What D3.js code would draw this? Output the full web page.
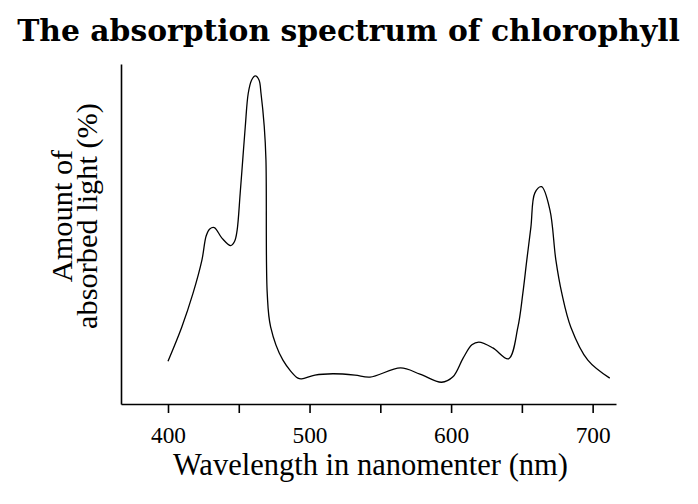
<!DOCTYPE html>
<html>
<head>
<meta charset="utf-8">
<script src="https://cdn.jsdelivr.net/npm/d3@7"></script>
<style>
  html, body { margin: 0; padding: 0; background: #fff; }
  svg { display: block; }
</style>
</head>
<body>
<svg id="chart" width="698" height="504"></svg>
<script>
// ---- data ----
const titleText = "The absorption spectrum of chlorophyll";
const xAxisTitle = "Wavelength in nanomenter (nm)";
const yAxisTitleLines = ["Amount of", "absorbed light (%)"];
const xTicks = [400, 450, 500, 550, 600, 650, 700];
const xTickLabels = [400, 500, 600, 700];
const wavelength = [400, 409.7, 417.7, 424.0, 427.0, 429.5, 432.7, 438.1, 444.3, 447.0, 448.8, 451.0, 452.8, 454.6, 456.7, 459.1, 461.7, 464.3, 465.7, 468.0, 469.2, 470.1, 472.5, 481.2, 491.8, 494.5, 503.8, 516.5, 532.1, 542.7, 564.3, 578.0, 593.3, 601.3, 608.5, 614.7, 619.6, 629.5, 640.6, 647.2, 650.7, 653.5, 656.4, 659.2, 663.9, 669.8, 674.0, 678.2, 684.6, 696.6, 712.1];
const absorbed = [12.6, 22.6, 32.6, 42.4, 49.5, 51.5, 51.9, 48.8, 46.6, 47.8, 51.0, 62.0, 71.8, 81.6, 91.4, 95.3, 96.5, 95.3, 91.4, 81.6, 71.8, 32.6, 22.7, 12.9, 7.6, 7.4, 8.5, 8.9, 8.5, 7.9, 10.6, 8.8, 6.4, 8.0, 13.5, 17.4, 18.2, 16.5, 13.3, 22.6, 32.6, 42.4, 52.1, 62.1, 63.9, 57.1, 42.4, 32.6, 22.6, 12.9, 7.6];

// ---- layout ----
const svg = d3.select("#chart");
const mLeft = 121, mRight = 616, mTop = 64, mBottom = 404;
const serif = "'Liberation Serif', 'DejaVu Serif', serif";

const x = d3.scaleLinear().domain([366.8, 716.5]).range([mLeft, mRight]);
const y = d3.scaleLinear().domain([0, 100]).range([mBottom, mTop]);

function fit(sel, target) {
  const node = sel.node();
  const fs = parseFloat(sel.style("font-size"));
  const w = node.getComputedTextLength();
  sel.style("font-size", (fs * target / w).toFixed(2) + "px");
}

// title
const t = svg.append("text")
  .attr("x", 348.5).attr("y", 41)
  .attr("text-anchor", "middle")
  .style("font-family", "'DejaVu Serif', serif")
  .style("font-weight", "bold")
  .style("font-size", "26px")
  .style("fill", "#000")
  .text(titleText);
fit(t, 663);

// x axis
const xAxis = d3.axisBottom(x)
  .tickValues(xTicks)
  .tickSize(9)
  .tickSizeOuter(0)
  .tickFormat(d => xTickLabels.includes(d) ? d : "");
const gx = svg.append("g").attr("transform", `translate(0,${mBottom})`).call(xAxis);
gx.select(".domain").attr("stroke", "#000").attr("stroke-width", 1.6);
gx.selectAll(".tick line").attr("stroke", "#000").attr("stroke-width", 1.6);
gx.selectAll(".tick text")
  .style("font-family", serif)
  .style("font-size", "24px")
  .style("fill", "#000")
  .attr("y", 0)
  .attr("dy", 0)
  .attr("transform", "translate(0,39)");
const tl = gx.selectAll(".tick text").filter(d => xTickLabels.includes(d));
const tw = tl.node().getComputedTextLength();
gx.selectAll(".tick text").style("font-size", (24 * 35 / tw).toFixed(2) + "px");

// y axis (line only)
const yAxis = d3.axisLeft(y).tickValues([]).tickSizeOuter(0);
const gy = svg.append("g").attr("transform", `translate(${mLeft},0)`).call(yAxis);
gy.select(".domain").attr("stroke", "#000").attr("stroke-width", 1.6);

// x axis title
const xt = svg.append("text")
  .attr("x", 370.5).attr("y", 475)
  .attr("text-anchor", "middle")
  .style("font-family", serif)
  .style("font-size", "27px")
  .style("fill", "#000")
  .text(xAxisTitle);
fit(xt, 395);

// y axis title (two lines, rotated)
const yCenter = 216;
const yl1 = svg.append("text")
  .attr("transform", `translate(72,${yCenter}) rotate(-90)`)
  .attr("text-anchor", "middle")
  .style("font-family", serif)
  .style("font-size", "27px")
  .style("fill", "#000")
  .text(yAxisTitleLines[0]);
const yl2 = svg.append("text")
  .attr("transform", `translate(97,${yCenter}) rotate(-90)`)
  .attr("text-anchor", "middle")
  .style("font-family", serif)
  .style("font-size", "27px")
  .style("fill", "#000")
  .text(yAxisTitleLines[1]);
fit(yl2, 226);
yl1.style("font-size", yl2.style("font-size"));

// spectrum line
const pts = wavelength.map((w, i) => [w, absorbed[i]]);
const line = d3.line()
  .x(d => x(d[0]))
  .y(d => y(d[1]))
  .curve(d3.curveCatmullRom.alpha(0.5));
svg.append("path")
  .datum(pts)
  .attr("fill", "none")
  .attr("stroke", "#000")
  .attr("stroke-width", 1.3)
  .attr("d", line);
</script>
</body>
</html>
